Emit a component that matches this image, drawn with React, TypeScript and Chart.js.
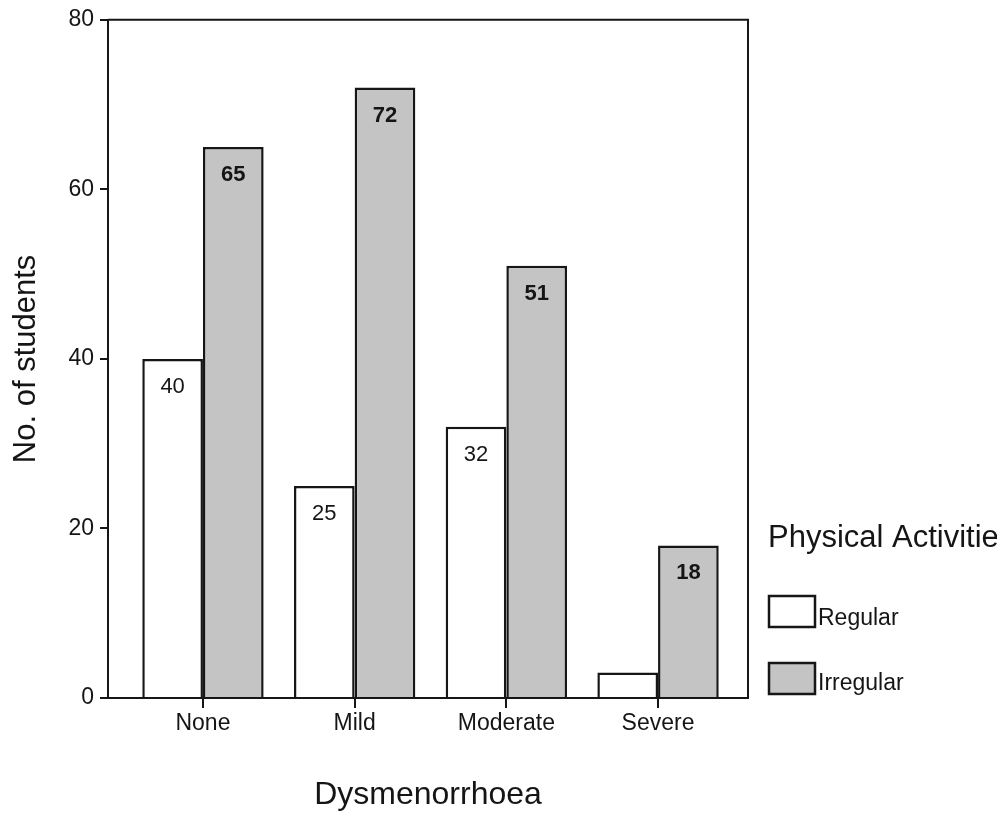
import React, { useEffect, useRef } from "react";
import { Chart, registerables } from "chart.js";

Chart.register(...registerables);

const categories = ["None", "Mild", "Moderate", "Severe"];
const regularValues = [40, 25, 32, 3];
const irregularValues = [65, 72, 51, 18];
const yTicks = [0, 20, 40, 60, 80];
const seriesNames = ["Regular", "Irregular"];
const legendTitle = "Physical Activities";
const xTitle = "Dysmenorrhoea";
const yTitle = "No. of students";

const FONT = "'Liberation Sans', Arial, Helvetica, sans-serif";
const INK = "#161616";
const TEXT = "#151515";
const GREY = "#c4c4c4";

const framePlugin = {
  id: "frame",
  afterDraw(chart: any) {
    const { ctx, chartArea } = chart;
    ctx.save();
    ctx.strokeStyle = INK;
    ctx.lineWidth = 2;
    ctx.beginPath();
    ctx.moveTo(chartArea.left, chartArea.top);
    ctx.lineTo(chartArea.right, chartArea.top);
    ctx.lineTo(chartArea.right, chartArea.bottom);
    ctx.stroke();
    ctx.restore();
  },
};

const valueLabelPlugin = {
  id: "valueLabels",
  afterDatasetsDraw(chart: any) {
    const { ctx } = chart;
    ctx.save();
    ctx.fillStyle = TEXT;
    ctx.textAlign = "center";
    ctx.textBaseline = "alphabetic";
    chart.data.datasets.forEach((ds: any, di: number) => {
      const meta = chart.getDatasetMeta(di);
      ctx.font = `${di === 1 ? "bold " : ""}22px ${FONT}`;
      meta.data.forEach((el: any, i: number) => {
        const v = ds.data[i].y;
        if (el.base - el.y < 40) return;
        ctx.fillText(String(v), el.x, el.y + 34);
      });
    });
    ctx.restore();
  },
};

const legendPlugin = {
  id: "customLegend",
  afterDraw(chart: any) {
    const { ctx } = chart;
    ctx.save();
    ctx.beginPath();
    ctx.rect(0, 0, 997, 814);
    ctx.clip();
    ctx.fillStyle = TEXT;
    ctx.textAlign = "left";
    ctx.textBaseline = "alphabetic";
    ctx.font = `31px ${FONT}`;
    ctx.fillText(legendTitle, 768, 547);
    const boxes = [596, 663];
    const bases = [625, 690];
    chart.data.datasets.forEach((ds: any, di: number) => {
      const y = boxes[di];
      ctx.fillStyle = ds.backgroundColor;
      ctx.fillRect(769, y, 46, 31);
      ctx.strokeStyle = INK;
      ctx.lineWidth = 2.5;
      ctx.strokeRect(769, y, 46, 31);
      ctx.fillStyle = TEXT;
      ctx.font = `23px ${FONT}`;
      ctx.fillText(ds.label, 818, bases[di]);
    });
    ctx.restore();
  },
};

export default function App() {
  const ref = useRef<HTMLCanvasElement | null>(null);

  useEffect(() => {
    if (!ref.current) return;
    const chart = new Chart(ref.current, {
      type: "bar",
      data: {
        datasets: [
          {
            label: seriesNames[0],
            data: regularValues.map((v, i) => ({ x: i, y: v })),
            backgroundColor: "#ffffff",
            borderColor: INK,
            borderWidth: 2.5,
          },
          {
            label: seriesNames[1],
            data: irregularValues.map((v, i) => ({ x: i, y: v })),
            backgroundColor: GREY,
            borderColor: INK,
            borderWidth: 2.5,
          },
        ],
      },
      options: {
        responsive: false,
        animation: false,
        events: [],
        datasets: { bar: { categoryPercentage: 0.8, barPercentage: 1.0 } },
        layout: { padding: { top: 18, right: 255, bottom: 0, left: 0 } },
        plugins: {
          legend: { display: false },
          tooltip: { enabled: false },
        },
        scales: {
          x: {
            type: "linear",
            offset: false,
            min: -0.626,
            max: 3.593,
            afterBuildTicks: (scale: any) => {
              scale.ticks = categories.map((_, i) => ({ value: i }));
            },
            afterFit: (scale: any) => {
              scale.height = 116;
            },
            ticks: {
              callback: (v: any) => categories[v] ?? "",
              font: { family: FONT, size: 23 },
              color: TEXT,
              padding: 2,
              maxRotation: 0,
              autoSkip: false,
            },
            grid: {
              offset: false,
              drawOnChartArea: false,
              drawTicks: true,
              tickLength: 10,
              color: INK,
              lineWidth: 2,
            },
            border: { display: true, color: INK, width: 2 },
            title: {
              display: true,
              text: xTitle,
              font: { family: FONT, size: 32 },
              color: TEXT,
              padding: { top: 0, bottom: 0 },
            },
          },
          y: {
            min: 0,
            max: 80,
            afterBuildTicks: (scale: any) => {
              scale.ticks = yTicks.map((v) => ({ value: v }));
            },
            afterFit: (scale: any) => {
              scale.width = 108;
            },
            ticks: {
              font: { family: FONT, size: 23 },
              color: TEXT,
              padding: 6,
            },
            grid: {
              drawOnChartArea: false,
              drawTicks: true,
              tickLength: 8,
              color: INK,
              lineWidth: 2,
            },
            border: { display: true, color: INK, width: 2 },
            title: {
              display: true,
              text: yTitle,
              font: { family: FONT, size: 31 },
              color: TEXT,
              padding: { top: 8, bottom: 0 },
            },
          },
        },
      },
      plugins: [framePlugin, valueLabelPlugin, legendPlugin],
    });
    return () => chart.destroy();
  }, []);

  return (
    <div style={{ position: "absolute", left: 0, top: 0, width: 1003, height: 814, background: "#fff" }}>
      <canvas ref={ref} width={1003} height={814} />
    </div>
  );
}
